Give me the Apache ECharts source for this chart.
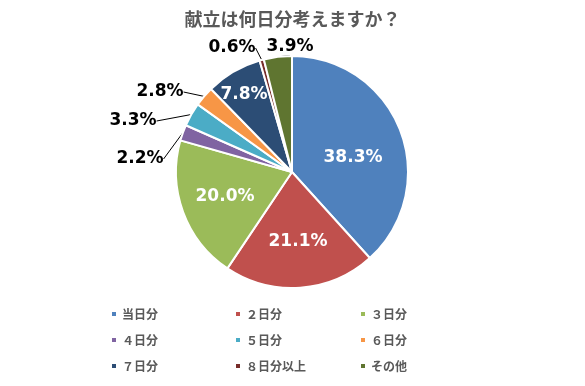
<!DOCTYPE html>
<html><head><meta charset="utf-8">
<script src="https://cdn.jsdelivr.net/npm/echarts@6/dist/echarts.min.js"></script>
<style>html,body{margin:0;padding:0;background:#fff}#c{width:585px;height:386px}</style>
</head><body><div id="c"></div>
<script>
const titleText = '献立は何日分考えますか？';
const categories = ['当日分','２日分','３日分','４日分','５日分','６日分','７日分','８日分以上','その他'];
const values = [38.3, 21.1, 20.0, 2.2, 3.3, 2.8, 7.8, 0.6, 3.9];
const colors = ['#4F81BD','#C0504D','#9BBB59','#8064A2','#4BACC6','#F79646','#2C4D75','#772C2A','#5F7530'];
const insideIdx = [0,1,2,6];
// label centre positions (px)
const labelPos = [[353,158],[298,242],[225,197],[140,159],[133,121],[160,92],[244,95],[232,48],[290,47]];

const chart = echarts.init(document.getElementById('c'));
const data = categories.map((n,i)=>{
  const inside = insideIdx.includes(i);
  return {
    name:n, value:values[i], itemStyle:{color:colors[i]},
    label:{position: inside?'inside':'outside', color: inside?'#fff':'#000'},
    labelLine:{show:!inside, length:8, length2:0, lineStyle:{color:'#000',width:1}}
  };
});
const legendFont = {color:'#595959',fontSize:12,fontWeight:'bold',fontFamily:'"Noto Sans CJK JP", sans-serif'};
function col(names,left){
  return {data:names,left:left,top:308,padding:0,orient:'vertical',itemWidth:6,itemHeight:6,itemGap:14,icon:'rect',textStyle:legendFont,selectedMode:false};
}
chart.setOption({
  animation:false,
  title:{text:titleText,left:'center',top:5,textStyle:{color:'#595959',fontSize:18,fontWeight:'bold',fontFamily:'"Noto Sans CJK JP", sans-serif'}},
  legend:[col([categories[0],categories[3],categories[6]],110),col([categories[1],categories[4],categories[7]],234),col([categories[2],categories[5],categories[8]],359)],
  series:[{
    type:'pie', center:[292,172], radius:116, startAngle:90, clockwise:true,
    itemStyle:{borderColor:'#fff',borderWidth:2},
    label:{show:true,formatter:p=>p.value.toFixed(1)+'%',fontSize:17,fontWeight:'bold',fontFamily:'"DejaVu Sans", Verdana, sans-serif'},
    labelLayout:function(p){const q=labelPos[p.dataIndex];return {x:q[0],y:q[1],align:'center',verticalAlign:'middle'};},
    data:data
  }]
});
</script></body></html>
